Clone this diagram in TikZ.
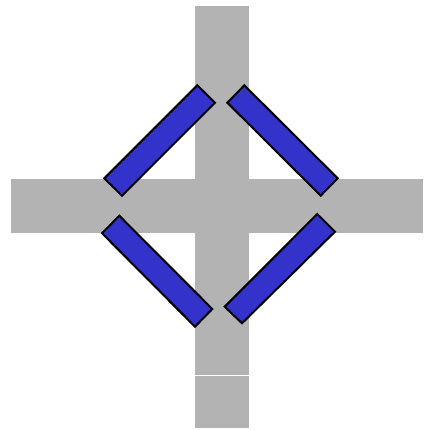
\documentclass[tikz,border=0pt]{standalone}
\definecolor{crossgray}{HTML}{B3B3B3}
\definecolor{barblue}{HTML}{3333CC}
\begin{document}
\begin{tikzpicture}[x=1pt,y=-1pt,
  graybar/.style={fill=crossgray,draw=none},
  bluebar/.style={fill=barblue,draw=black,line width=2pt,line join=miter}]
\useasboundingbox (0,0) rectangle (423,430);
% gray cross
\fill[graybar] (195,6) rectangle (249,374.5);
\fill[graybar] (195,376) rectangle (249,428);
\fill[graybar] (11,179) rectangle (423,233);
% blue bars
\draw[bluebar] (197.3,85.3) -- (215,102.7) -- (122,195.7) -- (104.3,178.3) -- cycle;
\draw[bluebar] (244.3,85.3) -- (227.3,102.7) -- (320.7,195.7) -- (337.7,178.3) -- cycle;
\draw[bluebar] (119.3,215.7) -- (102,233.3) -- (195,326.7) -- (212.3,309) -- cycle;
\draw[bluebar] (317.3,214) -- (335,231.7) -- (242,323.3) -- (224.7,306.7) -- cycle;
\end{tikzpicture}
\end{document}
